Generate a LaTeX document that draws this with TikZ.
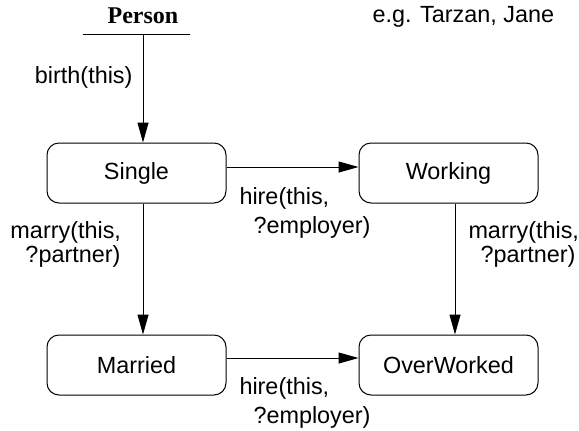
\documentclass[tikz,border=0pt]{standalone}
\usepackage{fontspec}
\setmainfont{Liberation Sans}
\newfontfamily\personfont{Liberation Serif}
\usetikzlibrary{arrows.meta,positioning}

\begin{document}
\begin{tikzpicture}[x=0.5pt, y=-0.5pt, line width=0.5pt, >={Triangle[length=10pt,width=5.5pt]}, state node/.style={rectangle,rounded corners=6pt,draw,minimum width=89.5pt,minimum height=30pt,inner sep=0pt}, label node/.style={inner sep=0pt,align=left,anchor=base west}]%
\useasboundingbox (0,0) rectangle (579,430);
\begin{scope}[every node/.style={font=\fontsize{11.7}{10.5}\selectfont}]
\node[font=\personfont\bfseries\fontsize{12}{14}\selectfont, inner sep=0pt, anchor=base] (person) at (143,23) {Person};
\coordinate (bar west) at (83,34);
\coordinate (bar east) at (190,34);
\node[label node] (example) at (372,22) {e.g. Tarzan, Jane};
\node[state node] (single) at (136.5,173) {Single};
\node[state node] (working) at (448.5,173) {Working};
\node[state node] (married) at (136.5,365) {Married};
\node[state node] (overworked) at (448.5,365) {OverWorked};
\node[label node, anchor=base east] (lbirth) at (133,83) {birth(this)};
% base of a two-line label is its last line
\node[label node] (lhire1) at (239,233) {hire(this,\\[2.5pt]\hspace*{7pt}?employer)};
\node[label node] (lmarry1) at (10,262) {marry(this,\\\hspace*{7.5pt}?partner)};
\node[label node] (lmarry2) at (468,262) {marry(this,\\\hspace*{6pt}?partner)};
\node[label node] (lhire2) at (239,423) {hire(this,\\[2.5pt]\hspace*{7pt}?employer)};
\end{scope}
\begin{scope}
\draw (bar west) -- (bar east);
\draw[->] (person |- bar west) -- (person |- single.north);
\draw[->] ([yshift=3pt]single.east) -- ([yshift=3pt]working.west);
\draw[->] ([xshift=3.25pt]single.south) -- ([xshift=3.25pt]married.north);
\draw[->] ([xshift=3.25pt]working.south) -- ([xshift=3.25pt]overworked.north);
\draw[->] ([yshift=3.5pt]married.east) -- ([yshift=3.5pt]overworked.west);
\end{scope}
\end{tikzpicture}
\end{document}
